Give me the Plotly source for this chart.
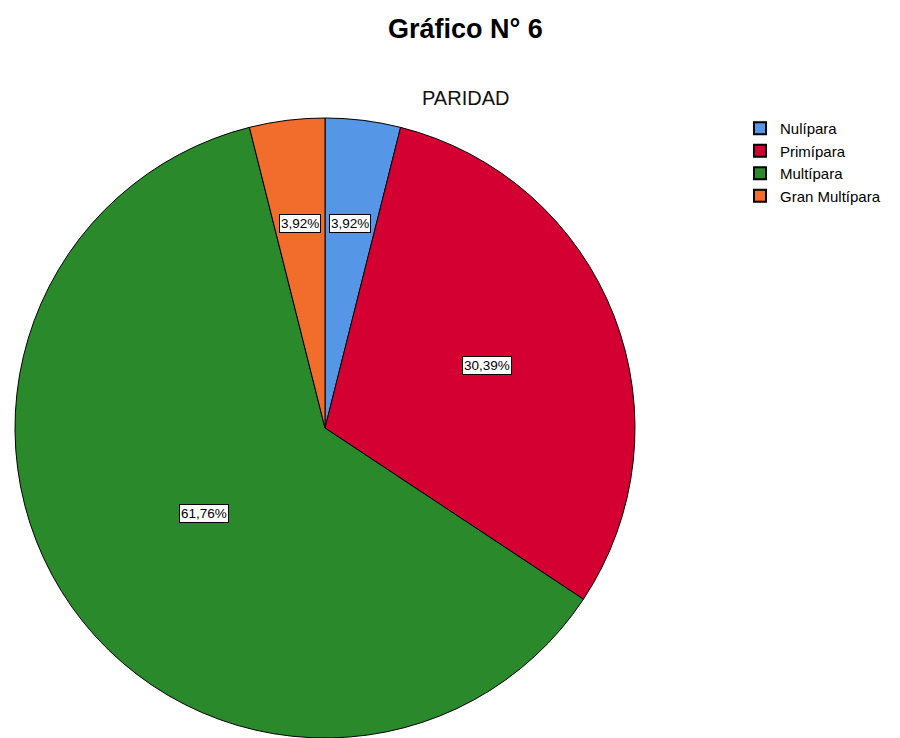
import math
import plotly.graph_objects as go

categories = ["Nulípara", "Primípara", "Multípara", "Gran Multípara"]
counts = [4, 31, 63, 4]
percent_labels = ["3,92%", "30,39%", "61,76%", "3,92%"]
colors = ["#5596E6", "#D50032", "#2A8A2B", "#F26C2B"]
label_radius_frac = [0.665, 0.56, 0.48, 0.665]

W, H = 900, 738
R = 310
CX, CY = 325, H - R  # pixel center (from top)
FONT = "Arial, Liberation Sans, sans-serif"

fig = go.Figure(go.Pie(
    labels=categories,
    values=counts,
    sort=False,
    direction="clockwise",
    rotation=0,
    marker=dict(colors=colors, line=dict(color="#000000", width=1)),
    textinfo="none",
    hoverinfo="label+percent",
    domain=dict(x=[(CX - R) / W, (CX + R) / W], y=[0, 2 * R / H]),
))

total = sum(counts)
cum = 0
annotations = []
for v, lab, f in zip(counts, percent_labels, label_radius_frac):
    mid = (cum + v / 2) / total * 2 * math.pi
    cum += v
    px = CX + R * f * math.sin(mid)
    py = CY - R * f * math.cos(mid)
    annotations.append(dict(
        x=px / W, y=1 - py / H, xref="paper", yref="paper",
        xanchor="center", yanchor="middle",
        text=lab, showarrow=False,
        font=dict(family=FONT, size=13.5, color="#000"),
        bgcolor="#FFFFFF", bordercolor="#000000", borderwidth=1, borderpad=1,
    ))

annotations.append(dict(
    x=465 / W, y=1 - 29 / H, xref="paper", yref="paper",
    xanchor="center", yanchor="middle",
    text="<b>Gráfico N° 6</b>", showarrow=False,
    font=dict(family=FONT, size=27, color="#000"),
))
annotations.append(dict(
    x=465 / W, y=1 - 98 / H, xref="paper", yref="paper",
    xanchor="center", yanchor="middle",
    text="PARIDAD", showarrow=False,
    font=dict(family=FONT, size=20, color="#111"),
))

fig.update_layout(
    width=W, height=H,
    margin=dict(l=0, r=0, t=0, b=0),
    paper_bgcolor="white",
    plot_bgcolor="white",
    annotations=annotations,
    showlegend=True,
    legend=dict(
        x=740 / W, y=1 - 112 / H, xanchor="left", yanchor="top",
        font=dict(family=FONT, size=15, color="#000"),
        tracegroupgap=0, itemsizing="constant", itemwidth=30,
        bgcolor="rgba(0,0,0,0)",
    ),
)

fig.write_html("out.html")
